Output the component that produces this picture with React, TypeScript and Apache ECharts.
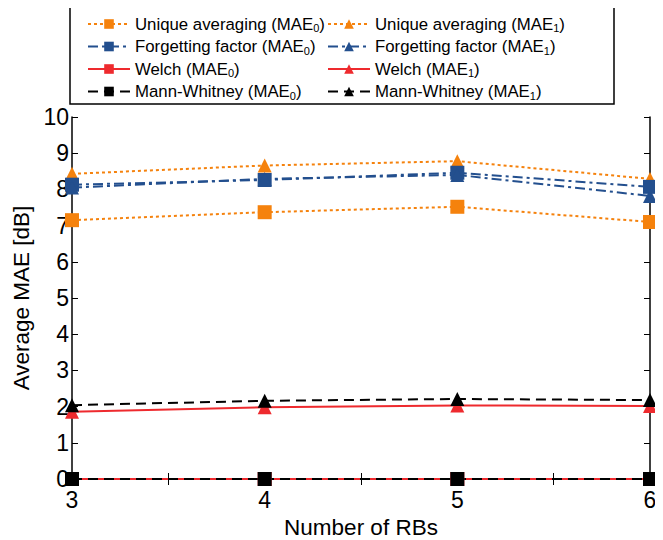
import React, { useEffect, useRef } from "react";
import * as echarts from "echarts";

const rbs = [3, 4, 5, 6];
const uniqueMAE0 = [7.15, 7.37, 7.52, 7.1];
const uniqueMAE1 = [8.43, 8.66, 8.78, 8.29];
const forgetMAE0 = [8.13, 8.26, 8.46, 8.07];
const forgetMAE1 = [8.05, 8.29, 8.4, 7.82];
const welchMAE0 = [0, 0, 0, 0];
const welchMAE1 = [1.86, 1.98, 2.03, 2.02];
const mannMAE0 = [0, 0, 0, 0];
const mannMAE1 = [2.04, 2.16, 2.21, 2.18];

const ORANGE = "#f5820d";
const BLUE = "#234f8e";
const RED = "#ee2a2e";
const BLACK = "#000000";
const FONT = "Liberation Sans";

const labels: Record<string, string> = {
  u0: "Unique averaging (MAE{sub|0})",
  u1: "Unique averaging (MAE{sub|1})",
  f0: "Forgetting factor (MAE{sub|0})",
  f1: "Forgetting factor (MAE{sub|1})",
  w0: "Welch (MAE{sub|0})",
  w1: "Welch (MAE{sub|1})",
  m0: "Mann-Whitney (MAE{sub|0})",
  m1: "Mann-Whitney (MAE{sub|1})",
};

function mk(name: string, vals: number[], color: string, dash: any, symbol: string, size: number) {
  return {
    name,
    type: "line",
    data: rbs.map((x, i) => [x, vals[i]]),
    symbol,
    symbolSize: size,
    clip: false,
    lineStyle: { color, width: 2, type: dash },
    itemStyle: { color },
  };
}

export default function App() {
  const ref = useRef<HTMLDivElement>(null);
  useEffect(() => {
    const chart = echarts.init(ref.current!, null, { renderer: "svg" });
    const legendText = {
      fontFamily: FONT,
      fontSize: 16.8,
      color: "#000",
      lineHeight: 20,
      rich: {
        sub: { fontFamily: FONT, fontSize: 11, lineHeight: 20, padding: [8, 0, 0, 0], color: "#000" },
      },
    };
    const axisCommon = {
      type: "value",
      axisLine: { show: true, lineStyle: { color: "#000", width: 1.5 } },
      splitLine: { show: false },
    };
    const legendCommon = {
      orient: "vertical",
      top: 9,
      itemWidth: 42,
      itemHeight: 12,
      itemGap: 2.5,
      formatter: (n: string) => labels[n],
      textStyle: legendText,
    };
    chart.setOption({
      animation: false,
      grid: { left: 72, right: 13, top: 117, bottom: 61, containLabel: false, outerBoundsMode: "none" },
      graphic: [
        {
          type: "rect",
          shape: { x: 70, y: 3, width: 544, height: 101 },
          style: { fill: "#fff", stroke: "#000", lineWidth: 1.5 },
          z: -1,
        },
      ],
      legend: [
        { ...legendCommon, data: ["u0", "f0", "w0", "m0"], left: 82 },
        { ...legendCommon, data: ["u1", "f1", "w1", "m1"], left: 322 },
      ],
      xAxis: [
        {
          ...axisCommon,
          min: 3,
          max: 6,
          interval: 1,
          name: "Number of RBs",
          nameLocation: "middle",
          nameGap: 36,
          nameTextStyle: { fontFamily: FONT, fontSize: 22.5, color: "#000" },
          axisTick: { inside: true, length: 6, lineStyle: { color: "#000" } },
          minorTick: { show: true, splitNumber: 2, length: 6, lineStyle: { color: "#000" } },
          axisLabel: { fontFamily: FONT, fontSize: 23, color: "#000", margin: 9 },
        },
        {
          ...axisCommon,
          position: "top",
          min: 3,
          max: 6,
          interval: 1,
          axisTick: { inside: true, length: 6, lineStyle: { color: "#000" } },
          minorTick: { show: true, splitNumber: 2, length: 6, lineStyle: { color: "#000" } },
          axisLabel: { show: false },
        },
      ],
      yAxis: [
        {
          ...axisCommon,
          min: 0,
          max: 10,
          interval: 1,
          name: "Average MAE [dB]",
          nameLocation: "middle",
          nameGap: 38,
          nameTextStyle: { fontFamily: FONT, fontSize: 22.5, color: "#000" },
          axisTick: { inside: true, length: 6, lineStyle: { color: "#000" } },
          axisLabel: { fontFamily: FONT, fontSize: 23, color: "#000", margin: 3 },
        },
        {
          ...axisCommon,
          position: "right",
          min: 0,
          max: 10,
          interval: 1,
          axisTick: { inside: true, length: 6, lineStyle: { color: "#000" } },
          axisLabel: { show: false },
        },
      ],
      series: [
        mk("u0", uniqueMAE0, ORANGE, [3, 3], "rect", 14),
        mk("u1", uniqueMAE1, ORANGE, [3, 3], "triangle", 14),
        mk("f0", forgetMAE0, BLUE, [10, 4, 3, 4], "rect", 14),
        mk("f1", forgetMAE1, BLUE, [10, 4, 3, 4], "triangle", 14),
        mk("w0", welchMAE0, RED, "solid", "rect", 14),
        mk("w1", welchMAE1, RED, "solid", "triangle", 14),
        mk("m0", mannMAE0, BLACK, [10, 6], "rect", 14),
        mk("m1", mannMAE1, BLACK, [10, 6], "triangle", 14),
      ],
    });
    return () => chart.dispose();
  }, []);
  return <div ref={ref} style={{ width: 663, height: 540, marginLeft: -8, marginTop: -8 }} />;
}
